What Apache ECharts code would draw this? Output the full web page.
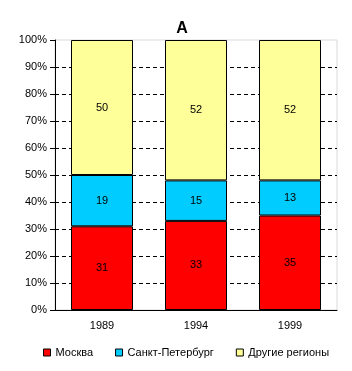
<!DOCTYPE html>
<html>
<head>
<meta charset="utf-8">
<script src="https://cdn.jsdelivr.net/npm/echarts@6/dist/echarts.min.js"></script>
<style>
  html, body { margin: 0; padding: 0; background: #fff; }
  #grafico { width: 352px; height: 371px; }
</style>
</head>
<body>
<div id="grafico"></div>
<script>
const anios = ['1989', '1994', '1999'];
const moskva = [31, 33, 35];
const piter = [19, 15, 13];
const drugie = [50, 52, 52];
const ticksY = [0, 10, 20, 30, 40, 50, 60, 70, 80, 90, 100];

function serie(nombre, datos, color) {
    return {
        name: nombre,
        type: 'bar',
        stack: 'total',
        barWidth: 62,
        data: datos,
        itemStyle: { color: color, borderColor: '#000', borderWidth: 1 },
        label: {
            show: true,
            position: 'inside',
            color: '#000',
            fontSize: 11,
            fontFamily: 'Liberation Sans'
        }
    };
}

let graf = echarts.init(document.getElementById('grafico'));

// colores de las líneas de la rejilla: la de 100% va aparte (borde gris)
let coloresRejilla = ticksY.map(v => v === 100 ? 'rgba(0,0,0,0)' : '#000');

let option = {
    animation: false,
    textStyle: { fontFamily: 'Liberation Sans' },
    title: {
        text: 'А',
        left: 177,
        textAlign: 'center',
        top: 16,
        textStyle: { fontSize: 16, fontWeight: 'bold', color: '#000' }
    },
    legend: {
        bottom: 8,
        left: 38,
        itemWidth: 7,
        itemHeight: 7,
        itemGap: 22,
        icon: 'rect',
        textStyle: { fontSize: 11, color: '#000' },
        itemStyle: { borderColor: '#000', borderWidth: 1 },
        data: ['Москва', 'Санкт-Петербург', 'Другие регионы']
    },
    grid: {
        left: 55,
        right: 15,
        top: 40,
        bottom: 61,
        show: true,
        borderColor: '#d9d9d9',
        borderWidth: 1
    },
    xAxis: {
        type: 'category',
        data: anios,
        axisLine: { lineStyle: { color: '#000' } },
        axisTick: { length: 5, lineStyle: { color: '#000' } },
        axisLabel: { color: '#000', fontSize: 11, margin: 10 }
    },
    yAxis: {
        type: 'value',
        min: 0,
        max: 100,
        interval: 10,
        axisLine: { show: true, lineStyle: { color: '#000' } },
        axisTick: { show: true, length: 5, lineStyle: { color: '#000' } },
        axisLabel: { color: '#000', fontSize: 11, formatter: '{value}%', margin: 8 },
        splitLine: { lineStyle: { color: coloresRejilla, type: [4, 3] } }
    },
    series: [
        serie('Москва', moskva, '#ff0000'),
        serie('Санкт-Петербург', piter, '#00ccff'),
        serie('Другие регионы', drugie, '#ffff99')
    ]
};

graf.setOption(option);
</script>
</body>
</html>
